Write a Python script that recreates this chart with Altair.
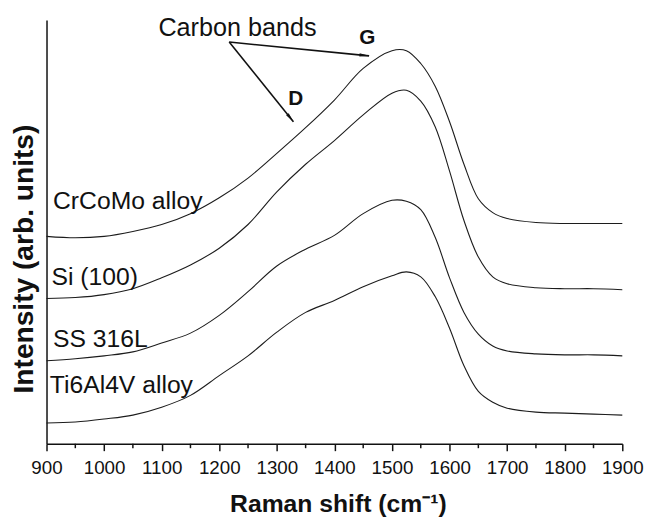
import altair as alt
import pandas as pd

# ---- data (x = Raman shift, y = intensity, arb. units) ----
wavenumber = [900, 950, 1000, 1050, 1100, 1150, 1200, 1250, 1300, 1350, 1400, 1450,
              1500, 1525, 1550, 1575, 1600, 1625, 1650, 1675, 1700, 1750, 1800, 1850, 1900]
crcomo  = [210, 208.5, 210, 215, 222, 233, 249, 269, 294, 320, 348, 380,
           398, 398, 385, 362, 326, 283, 248, 234, 228, 224, 223, 223, 223]
si100   = [147, 148, 151, 157, 168, 181, 198, 222, 255, 283, 307, 333,
           355, 358, 347, 321, 276, 226, 189, 169, 162, 158, 157, 157, 156]
ss316l  = [84, 86, 89, 93, 102, 112, 130, 154, 180, 197, 211, 233,
           246.5, 245.5, 237, 209, 168, 133, 111, 99, 94, 91, 90, 90, 89]
ti6al4v = [21, 22, 25, 29, 37, 49, 69, 89, 113, 133, 145, 159,
           170, 174, 169, 149, 117, 79, 53, 42, 36, 32, 31, 30, 29]
series_names = ["CrCoMo alloy", "Si (100)", "SS 316L", "Ti6Al4V alloy"]

major_ticks = [900, 1000, 1100, 1200, 1300, 1400, 1500, 1600, 1700, 1800, 1900]
minor_ticks = [950, 1050, 1150, 1250, 1350, 1450, 1550, 1650, 1750, 1850]

# labels next to the curves (data units)
label_wn = [911.3, 908.6, 911.3, 905.7]
label_h = [237.7, 161.0, 97.7, 51.0]

# annotation: "Carbon bands" with arrows to D and G bands
note_text = ["Carbon bands"]
note_wn = [1094.3]
note_h = [412.7]
band_text = ["D", "G"]
band_wn = [1332.8, 1457.1]
band_h = [349.5, 410.5]
arrow_origin_wn = 1217.3
arrow_origin_h = 406.7
arrow_tip_wn = [1328.8, 1460.2]
arrow_tip_h = [326.0, 392.7]
arrow_head_wn = [1324.0, 1452.5]
arrow_head_h = [329.5, 393.1]

# ---- tables ----
rows = []
for name, vals in zip(series_names, [crcomo, si100, ss316l, ti6al4v]):
    for w, v in zip(wavenumber, vals):
        rows.append({"wn": w, "h": v, "series": name})
curves = pd.DataFrame(rows)

labels = pd.DataFrame({"wn": label_wn, "h": label_h, "txt": series_names})
notes = pd.DataFrame({"wn": note_wn, "h": note_h, "txt": note_text})
bands = pd.DataFrame({"wn": band_wn, "h": band_h, "txt": band_text})

arrow_rows = []
for i, (tw, th) in enumerate(zip(arrow_tip_wn, arrow_tip_h)):
    arrow_rows.append({"wn": arrow_origin_wn, "h": arrow_origin_h, "seg": i, "o": 0})
    arrow_rows.append({"wn": tw, "h": th, "seg": i, "o": 1})
arrows = pd.DataFrame(arrow_rows)

minor = pd.DataFrame({"wn": minor_ticks})

FONT = "Liberation Sans"
INK = "#111111"

xscale = alt.Scale(domain=[900, 1900], nice=False, zero=False)
yscale = alt.Scale(domain=[0, 429], nice=False, zero=False)

xaxis = alt.Axis(
    title="Raman shift (cm⁻¹)", values=major_ticks, format="d", grid=False,
    labelFont=FONT, labelFontSize=19, labelColor=INK, labelPadding=8,
    labelFlush=False, labelOverlap=False,
    tickSize=7, tickWidth=1.5, tickColor=INK,
    domainColor=INK, domainWidth=1.5,
    titleFont=FONT, titleFontSize=25, titleFontWeight="bold", titleColor=INK,
    titleX=295, titleY=69, titleBaseline="alphabetic", titleAlign="center",
)
yaxis = alt.Axis(
    title="Intensity (arb. units)", grid=False, ticks=False, labels=False,
    domainColor=INK, domainWidth=1.5,
    titleFont=FONT, titleFontSize=28.5, titleFontWeight="bold", titleColor=INK,
    titleX=-14, titleY=241.5, titleAngle=270, titleBaseline="alphabetic",
    titleAlign="center",
)


def X(field="wn"):
    return alt.X(f"{field}:Q", scale=xscale, axis=xaxis)


def Y(field="h"):
    return alt.Y(f"{field}:Q", scale=yscale, axis=yaxis)


lines = alt.Chart(curves).mark_line(
    interpolate="catmull-rom", color="#1c1c1c", strokeWidth=1.1
).encode(x=X(), y=Y(), detail="series:N")

curve_labels = alt.Chart(labels).mark_text(
    align="left", baseline="alphabetic", font=FONT, fontSize=25, color=INK
).encode(x=X(), y=Y(), text="txt:N")

note = alt.Chart(notes).mark_text(
    align="left", baseline="alphabetic", font=FONT, fontSize=25.5, color=INK
).encode(x=X(), y=Y(), text="txt:N")

band_labels = alt.Chart(bands).mark_text(
    align="center", baseline="middle", font=FONT, fontSize=21,
    fontWeight="bold", color=INK
).encode(x=X(), y=Y(), text="txt:N")

arrow_lines = alt.Chart(arrows).mark_line(color=INK, strokeWidth=1.6).encode(
    x=X(), y=Y(), detail="seg:N", order="o:Q"
)

HEAD = "M0,-1L0.32,1L-0.32,1Z"
head_d = alt.Chart(pd.DataFrame({"wn": [arrow_head_wn[0]], "h": [arrow_head_h[0]]})).mark_point(
    shape=HEAD, filled=True, size=110, color=INK, opacity=1, angle=141
).encode(x=X(), y=Y())
head_g = alt.Chart(pd.DataFrame({"wn": [arrow_head_wn[1]], "h": [arrow_head_h[1]]})).mark_point(
    shape=HEAD, filled=True, size=110, color=INK, opacity=1, angle=96
).encode(x=X(), y=Y())

minor_ticks_layer = alt.Chart(minor).mark_rule(color=INK, strokeWidth=1.5).encode(
    x=X(), y=alt.value(429), y2=alt.value(433.5)
)

chart = alt.layer(
    lines, curve_labels, note, band_labels, arrow_lines, head_d, head_g, minor_ticks_layer
).properties(
    width=583, height=429,
    padding={"left": 39, "top": 9, "right": 24, "bottom": 74},
    autosize=alt.AutoSizeParams(type="none"),
    background="white",
).configure_view(stroke=None)

chart.save("out.html", embed_options={"renderer": "svg", "actions": False})
